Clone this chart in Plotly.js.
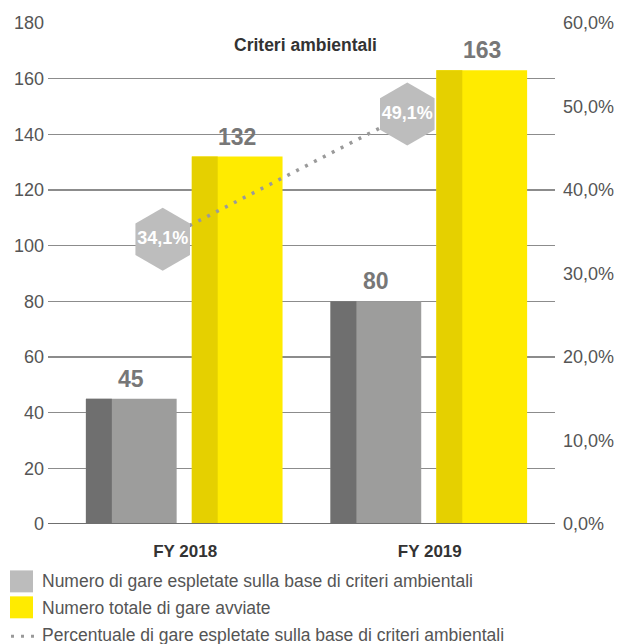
<!DOCTYPE html>
<html>
<head>
<meta charset="utf-8">
<script src="https://cdn.plot.ly/plotly-3.0.1.min.js"></script>
<style>
  html, body { margin: 0; padding: 0; background: #fff; }
  #chart { width: 620px; height: 644px; }
</style>
</head>
<body>
<div id="chart"></div>
<script>
// ---- Data ----
const categories = ["FY 2018", "FY 2019"];
const gareEspletate = [45, 80];
const gareTotali = [132, 163];
const percentuale = [34.1, 49.1];
const chartTitle = "Criteri ambientali";
const legendLabels = [
  "Numero di gare espletate sulla base di criteri ambientali",
  "Numero totale di gare avviate",
  "Percentuale di gare espletate sulla base di criteri ambientali"
];

// ---- Styles ----
const FONT = "Liberation Sans, Arial, sans-serif";
const GREY = "#9d9d9c", GREY_DARK = "#6f6f6f";
const YELLOW = "#ffeb00", YELLOW_DARK = "#e5d000";
const HEX = "#bdbdbd";
const barW = 0.371, darkW = 0.106;
const offGrey = -0.406, offYellow = 0.027;
const hexShift = -0.092;

const idx = categories.map((c, i) => i);

const traces = [
  { type: "bar", x: idx, y: gareEspletate, width: barW, offset: offGrey,
    marker: { color: GREY }, hoverinfo: "skip", showlegend: false },
  { type: "bar", x: idx, y: gareEspletate, width: darkW, offset: offGrey,
    marker: { color: GREY_DARK }, hoverinfo: "skip", showlegend: false },
  { type: "bar", x: idx, y: gareTotali, width: barW, offset: offYellow,
    marker: { color: YELLOW }, hoverinfo: "skip", showlegend: false },
  { type: "bar", x: idx, y: gareTotali, width: darkW, offset: offYellow,
    marker: { color: YELLOW_DARK }, hoverinfo: "skip", showlegend: false },
  { type: "scatter", mode: "lines+markers+text", yaxis: "y2",
    x: idx.map(i => i + hexShift), y: percentuale,
    line: { color: "#9a9a9a", width: 3.5, dash: "3px,7px" },
    marker: { symbol: "hexagon", size: 63, color: HEX, line: { width: 0 } },
    texttemplate: "%{y:.1f}%", textposition: "middle center",
    textfont: { family: FONT, size: 18, color: "#ffffff", weight: "bold" },
    hoverinfo: "skip", showlegend: false, cliponaxis: false }
];

// pixel -> paper helpers
const L = 48, R = 555, T = 22.5, B = 524.5;
const px = x => (x - L) / (R - L);
const py = y => (B - y) / (B - T);

const annotations = [];
idx.forEach(i => {
  annotations.push({ x: i + offGrey + barW / 2, y: gareEspletate[i], xref: "x", yref: "y",
    text: String(gareEspletate[i]), showarrow: false, yanchor: "bottom", yshift: 5,
    font: { family: FONT, size: 23, color: "#777777", weight: "bold" } });
  annotations.push({ x: i + offYellow + barW / 2, y: gareTotali[i], xref: "x", yref: "y",
    text: String(gareTotali[i]), showarrow: false, yanchor: "bottom", yshift: 5,
    font: { family: FONT, size: 23, color: "#777777", weight: "bold" } });
});
annotations.push({ x: px(305), y: py(45), xref: "paper", yref: "paper", text: chartTitle,
  showarrow: false, xanchor: "center", yanchor: "middle",
  font: { family: FONT, size: 17.5, color: "#333333", weight: "bold" } });

const shapes = [
  { type: "line", xref: "paper", yref: "y", x0: 0, x1: 1, y0: 0, y1: 0,
    line: { color: "#6f6f6f", width: 2 }, layer: "above" },
  { type: "rect", xref: "paper", yref: "paper", x0: px(10), x1: px(33), y0: py(571), y1: py(593),
    fillcolor: "#bcbcbc", line: { width: 0 } },
  { type: "rect", xref: "paper", yref: "paper", x0: px(10), x1: px(33), y0: py(597), y1: py(619),
    fillcolor: YELLOW, line: { width: 0 } },
  { type: "line", xref: "paper", yref: "paper", x0: px(11), x1: px(36), y0: py(637), y1: py(637),
    line: { color: "#9a9a9a", width: 3, dash: "3px,7px" } }
];
const legY = [582, 609, 636];
legendLabels.forEach((t, k) => {
  annotations.push({ x: px(40), y: py(legY[k]), xref: "paper", yref: "paper", text: t,
    showarrow: false, xanchor: "left", yanchor: "middle",
    font: { family: FONT, size: 17.5, color: "#555555" } });
});

const layout = {
  width: 620, height: 644,
  margin: { l: L, r: 620 - R, t: T, b: 644 - B, pad: 0 },
  paper_bgcolor: "#ffffff", plot_bgcolor: "#ffffff",
  separators: ",.",
  barmode: "overlay",
  showlegend: false,
  font: { family: FONT, color: "#555555" },
  xaxis: { range: [-0.561, 1.512], tickvals: idx, ticktext: categories,
    showgrid: false, zeroline: false, showline: false, ticks: "", ticklen: 0,
    tickfont: { family: FONT, size: 17, color: "#333333", weight: "bold" },
    ticklabelstandoff: 15, fixedrange: true },
  yaxis: { range: [0, 180], dtick: 20, showgrid: true, gridcolor: "#8c8c8c", gridwidth: 1.5,
    zeroline: false, showline: false, ticks: "", ticklen: 0, ticklabelstandoff: 3,
    tickfont: { family: FONT, size: 18, color: "#555555" }, fixedrange: true },
  yaxis2: { range: [0, 60], dtick: 10, overlaying: "y", side: "right", showgrid: false,
    zeroline: false, showline: false, ticks: "", ticklen: 0, ticklabelstandoff: 7,
    tickformat: ".1f", ticksuffix: "%",
    tickfont: { family: FONT, size: 18, color: "#555555" }, fixedrange: true },
  annotations: annotations,
  shapes: shapes
};

Plotly.newPlot("chart", traces, layout, { displayModeBar: false, staticPlot: true });
</script>
</body>
</html>
